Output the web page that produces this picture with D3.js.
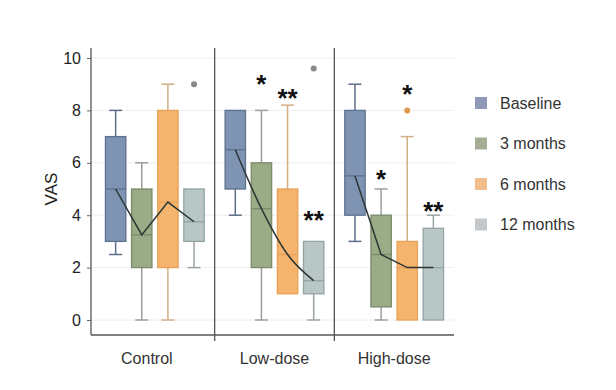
<!DOCTYPE html>
<html><head><meta charset="utf-8">
<script src="https://cdn.jsdelivr.net/npm/d3@7"></script>
<style>body{margin:0;background:#fff}</style>
</head><body><svg id="c" width="616" height="390"></svg>
<script>
const groups = ["Control", "Low-dose", "High-dose"];
const series = ["Baseline", "3 months", "6 months", "12 months"];
// [whiskerLow, q1, median, q3, whiskerHigh] per group
const baseline = [[2.5,3,5,7,8],[4,5,6.5,8,8],[3,4,5.5,8,9]];
const months3  = [[0,2,3.25,5,6],[0,2,4.25,6,8],[0,0.5,2.5,4,5]];
const months6  = [[0,2,4.5,8,9],[1,1,2.5,5,8.2],[0,0,2,3,7]];
const months12 = [[2,3,3.75,5,5],[0,1,1.5,3,3],[0,0,2,3.5,4]];
const outliers = [{g:"Control",s:"12 months",v:9},{g:"Low-dose",s:"12 months",v:9.6},{g:"High-dose",s:"6 months",v:8}];
const stars = [
  {g:"Low-dose",s:"3 months",t:"*",v:9.25},{g:"Low-dose",s:"6 months",t:"**",v:8.7},{g:"Low-dose",s:"12 months",t:"**",v:4.05},
  {g:"High-dose",s:"3 months",t:"*",v:5.6},{g:"High-dose",s:"6 months",t:"*",v:8.85},{g:"High-dose",s:"12 months",t:"**",v:4.4}];
const yTicks = [0,2,4,6,8,10];

const fills   = ["#7e94b2","#9aab85","#f4b46e","#b8c6c6"];
const strokes = ["#5d7190","#7a8a6c","#e8a258","#93a3a3"];
const whisk   = ["#5d6f88","#9c9f98","#d2ae84","#9aa4a4"];
const outc    = ["#5d7190","#7a8a6c","#e09a50","#888888"];
const legFill = ["#8e9ab8","#a5ad95","#f1bd88","#c4c8cb"];

const allData = [baseline, months3, months6, months12];
const svg = d3.select("#c");
const y = d3.scaleLinear().domain([0,10]).range([320,58]);
const pTop = 48, pBottom = 335, pLeft = 91, pRight = 454;
const xg = d3.scaleBand().domain(groups).range([95, pRight]);
const xs = d3.scaleBand().domain(series).range([0, xg.bandwidth()]).paddingInner(0.22).paddingOuter(0.4);
const font = "Liberation Sans, Arial, sans-serif";

// grid
svg.append("g").selectAll("line").data(yTicks).join("line")
  .attr("x1", pLeft).attr("x2", pRight).attr("y1", d=>y(d)).attr("y2", d=>y(d))
  .attr("stroke", "#eeeeee").attr("stroke-width", 1);

// panel dividers
svg.append("g").selectAll("line").data(groups.slice(1)).join("line")
  .attr("x1", d=>xg(d)).attr("x2", d=>xg(d)).attr("y1", pTop).attr("y2", pBottom+6)
  .attr("stroke", "#555").attr("stroke-width", 1.3);

// axes
const ya = svg.append("g").attr("transform", `translate(${pLeft},0)`)
  .call(d3.axisLeft(y).tickValues(yTicks).tickSize(4).tickPadding(6));
ya.select(".domain").remove();
ya.selectAll("line").attr("stroke", "#666");
ya.selectAll("text").attr("font-family", font).attr("font-size", 16).attr("fill", "#222");
svg.append("line").attr("x1", pLeft).attr("x2", pLeft).attr("y1", pTop).attr("y2", pBottom).attr("stroke", "#555").attr("stroke-width", 1.3);
svg.append("line").attr("x1", pLeft).attr("x2", pRight).attr("y1", pBottom).attr("y2", pBottom).attr("stroke", "#555").attr("stroke-width", 1.3);

svg.append("g").selectAll("text").data(groups).join("text")
  .attr("x", d=>xg(d)+xg.bandwidth()/2 - (d==="Control"?8:0)).attr("y", 364)
  .attr("text-anchor", "middle").attr("font-family", font).attr("font-size", 16).attr("fill", "#333")
  .text(d=>d);

svg.append("text").attr("transform", `translate(57,${(y(0)+y(10))/2}) rotate(-90)`)
  .attr("text-anchor", "middle").attr("font-family", font).attr("font-size", 17).attr("fill", "#222")
  .text("VAS");

const cx = (g,s) => xg(g) + xs(s) + xs.bandwidth()/2;
const bw = xs.bandwidth();
const cap = 6.5;

// boxes
series.forEach((s, si) => {
  groups.forEach((g, gi) => {
    const [lo,q1,md,q3,hi] = allData[si][gi];
    const c = cx(g,s);
    const gg = svg.append("g");
    gg.append("line").attr("x1", c).attr("x2", c).attr("y1", y(hi)).attr("y2", y(q3)).attr("stroke", whisk[si]).attr("stroke-width", 1.5);
    gg.append("line").attr("x1", c).attr("x2", c).attr("y1", y(q1)).attr("y2", y(lo)).attr("stroke", whisk[si]).attr("stroke-width", 1.5);
    if (hi > q3) gg.append("line").attr("x1", c-cap).attr("x2", c+cap).attr("y1", y(hi)).attr("y2", y(hi)).attr("stroke", whisk[si]).attr("stroke-width", 1.5);
    if (lo < q1) gg.append("line").attr("x1", c-cap).attr("x2", c+cap).attr("y1", y(lo)).attr("y2", y(lo)).attr("stroke", whisk[si]).attr("stroke-width", 1.5);
    gg.append("rect").attr("x", c-bw/2).attr("y", y(q3)).attr("width", bw).attr("height", y(q1)-y(q3))
      .attr("fill", fills[si]).attr("stroke", strokes[si]).attr("stroke-width", 1.3);
    gg.append("line").attr("x1", c-bw/2).attr("x2", c+bw/2).attr("y1", y(md)).attr("y2", y(md)).attr("stroke", strokes[si]).attr("stroke-width", 1.3);
  });
});

// median connecting lines
const line = d3.line().x(d=>d[0]).y(d=>d[1]);
const curveLine = d3.line().x(d=>d[0]).y(d=>d[1]).curve(d3.curveMonotoneX);
groups.forEach((g, gi) => {
  const pts = series.map((s, si) => [cx(g,s), y(allData[si][gi][2])]);
  svg.append("path").attr("d", (g==="Low-dose" ? curveLine : line)(pts)).attr("fill", "none").attr("stroke", "#2b3535").attr("stroke-width", 1.5);
});

// outliers
svg.append("g").selectAll("circle").data(outliers).join("circle")
  .attr("cx", d=>cx(d.g,d.s)).attr("cy", d=>y(d.v)).attr("r", 3)
  .attr("fill", d=>outc[series.indexOf(d.s)]);

// significance stars
svg.append("g").selectAll("text").data(stars).join("text")
  .attr("x", d=>cx(d.g,d.s)).attr("y", d=>y(d.v)+15)
  .attr("text-anchor", "middle").attr("font-family", font).attr("font-size", 26).attr("font-weight", "bold").attr("fill", "#111")
  .text(d=>d.t);

// legend
const lg = svg.append("g");
series.forEach((s, i) => {
  const cy = 103 + i*40.5;
  lg.append("rect").attr("x", 475).attr("y", cy-6).attr("width", 12).attr("height", 12).attr("fill", legFill[i]);
  lg.append("text").attr("x", 500).attr("y", cy).attr("dominant-baseline", "central")
    .attr("font-family", font).attr("font-size", 16).attr("fill", "#333").text(s);
});
</script></body></html>
